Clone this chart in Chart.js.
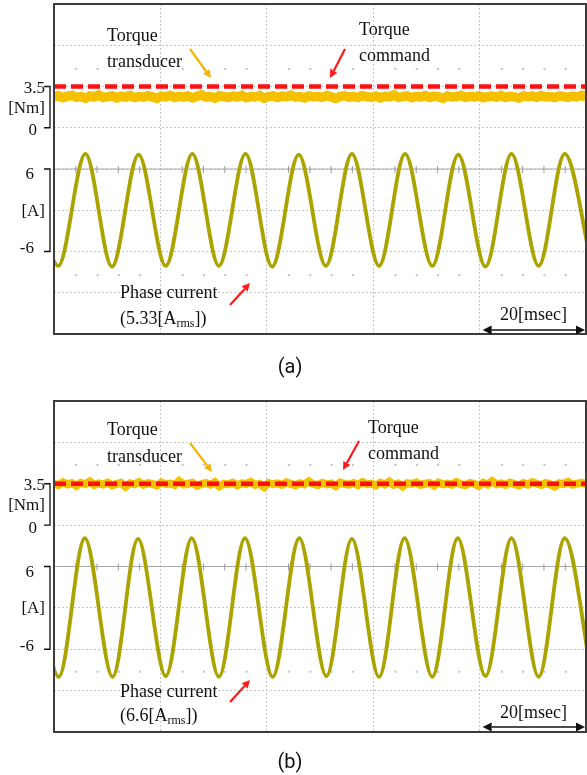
<!DOCTYPE html>
<html><head><meta charset="utf-8">
<script src="https://cdn.jsdelivr.net/npm/chart.js@4.4.0/dist/chart.umd.min.js"></script>
<style>
html,body{margin:0;padding:0;background:#fff;width:587px;height:775px;overflow:hidden}
canvas{position:absolute;left:0}
#ca{top:0}
#cb{top:390px}
</style></head><body>
<canvas id="ca" width="587" height="390"></canvas>
<canvas id="cb" width="587" height="385"></canvas>
<script>
// ---------------- data ----------------
const timeRange = [0, 100];                 // ms (5 div x 20 ms)
const timeTicks = [0, 20, 40, 60, 80, 100];
const torqueTicks = [0, 3.5, 7, 10.5];      // Nm
const currentTicks = [-18, -12, -6, 0, 6, 12]; // A
const commandTime = [0, 100];
const commandTorque = [3.5, 3.5];
const torqueAxisLabels = [['3.5', 3.5], ['[Nm]', 1.75], ['0', 0]];
const currentAxisLabels = [['6', 6], ['[A]', 0], ['-6', -6]];

// phase current extremes (ms, A)
const currentTimeA = [-4.2, 0.8, 5.9, 10.9, 15.9, 21.0, 26.0, 31.0, 36.0, 41.0, 46.0, 51.1, 56.0, 61.1, 66.0, 71.1, 76.0, 81.1, 86.0, 91.1, 96.0, 101.1];
const currentA     = [8.2, -8.1, 8.2, -8.2, 8.1, -8.1, 8.2, -8.1, 8.2, -8.2, 8.1, -8.1, 8.2, -8.1, 8.2, -8.1, 8.1, -8.2, 8.2, -8.1, 8.2, -8.1];
const currentTimeB = [-4.2, 0.9, 5.8, 11.0, 15.8, 21.0, 25.9, 31.0, 35.9, 41.1, 46.1, 51.2, 56.0, 61.1, 65.9, 71.1, 75.9, 81.1, 86.0, 91.1, 96.0, 101.1];
const currentB     = [10.1, -10.0, 10.1, -10.0, 10.0, -9.9, 10.1, -10.0, 10.1, -10.0, 10.1, -9.9, 10.0, -10.0, 10.1, -10.0, 10.1, -9.9, 10.1, -10.0, 10.1, -10.0];

// torque transducer samples (Nm), evenly spaced across the screen
const torqueA = [
2.62,2.71,2.55,2.68,2.74,2.58,2.66,2.50,2.69,2.61,
2.77,2.57,2.64,2.70,2.53,2.67,2.60,2.73,2.56,2.65,
2.59,2.72,2.63,2.48,2.68,2.62,2.75,2.57,2.66,2.61,
2.70,2.54,2.67,2.79,2.60,2.64,2.52,2.71,2.63,2.58,
2.69,2.61,2.74,2.55,2.66,2.62,2.72,2.51,2.65,2.70,
2.57,2.68,2.63,2.76,2.59,2.64,2.53,2.70,2.61,2.67,
2.58,2.73,2.62,2.49,2.66,2.71,2.60,2.65,2.56,2.74,
2.63,2.59,2.69,2.54,2.67,2.62,2.78,2.58,2.64,2.71,
2.55,2.66,2.61,2.73,2.57,2.68,2.63,2.50,2.70,2.62,
2.65,2.76,2.58,2.67,2.61,2.72,2.55,2.64,2.69,2.60,
2.74,2.57,2.66,2.62,2.52,2.70,2.63,2.68,2.59,2.73,
2.61,2.65,2.56,2.71,2.64,2.58,2.69,2.62,2.75,2.60];
const torqueB = [
3.50,3.38,3.62,3.44,3.55,3.31,3.58,3.47,3.70,3.40,
3.52,3.43,3.60,3.36,3.49,3.57,3.25,3.53,3.45,3.64,
3.41,3.55,3.48,3.35,3.61,3.46,3.52,3.39,3.74,3.44,
3.50,3.58,3.33,3.47,3.56,3.42,3.63,3.28,3.51,3.45,
3.59,3.37,3.54,3.48,3.66,3.40,3.50,3.22,3.57,3.46,
3.53,3.41,3.62,3.49,3.36,3.55,3.44,3.71,3.47,3.39,
3.58,3.45,3.52,3.30,3.60,3.48,3.43,3.56,3.38,3.64,
3.46,3.51,3.35,3.59,3.44,3.68,3.41,3.53,3.27,3.55,
3.48,3.62,3.40,3.50,3.57,3.34,3.61,3.45,3.52,3.42,
3.65,3.47,3.38,3.56,3.49,3.31,3.58,3.44,3.72,3.46,
3.53,3.40,3.60,3.47,3.36,3.55,3.43,3.63,3.50,3.39,
3.57,3.45,3.26,3.54,3.48,3.66,3.42,3.51,3.59,3.46];

// ---------------- styling / drawing ----------------
const SERIF = '"Liberation Serif", "Times New Roman", serif';
const GRID = '#c6c6c6';

function arrow(ctx, x1, y1, x2, y2, color, w, head) {
  const ang = Math.atan2(y2 - y1, x2 - x1);
  const bx = x2 - head * Math.cos(ang), by = y2 - head * Math.sin(ang);
  ctx.strokeStyle = color; ctx.fillStyle = color; ctx.lineWidth = w;
  ctx.beginPath(); ctx.moveTo(x1, y1); ctx.lineTo(bx, by); ctx.stroke();
  const px = -Math.sin(ang) * head * 0.5, py = Math.cos(ang) * head * 0.5;
  ctx.beginPath(); ctx.moveTo(x2, y2); ctx.lineTo(bx + px, by + py); ctx.lineTo(bx - px, by - py); ctx.closePath(); ctx.fill();
}

const deco = {
  id: 'deco',
  beforeDatasetsDraw(chart, args, o) {
    const {ctx, chartArea: a, scales} = chart;
    const x = scales.x, yc = scales.yc;
    ctx.save();
    const cy = yc.getPixelForValue(currentTicks[4]);
    ctx.strokeStyle = '#a9a9a9'; ctx.lineWidth = 1;
    ctx.beginPath(); ctx.moveTo(a.left, cy); ctx.lineTo(a.right, cy); ctx.stroke();
    const minor = (timeTicks[1] - timeTicks[0]) / 5;
    const div = a.height / 8;
    for (let i = 1; i < 25; i++) {
      const px = x.getPixelForValue(timeRange[0] + i * minor);
      if (i % 5 !== 0) {
        ctx.strokeStyle = '#9a9a9a';
        ctx.beginPath(); ctx.moveTo(px + 0.5, cy - 3); ctx.lineTo(px + 0.5, cy + 4); ctx.stroke();
        ctx.fillStyle = '#c2c2c2';
        for (const r of o.dotRows) ctx.fillRect(px, a.top + r * div, 2, 2);
      }
    }
    ctx.restore();
  },
  afterDatasetsDraw(chart, args, o) {
    const {ctx, chartArea: a, scales} = chart;
    const yt = scales.yt, yc = scales.yc, x = scales.x;
    ctx.save();
    // frame
    ctx.strokeStyle = '#3c3c3c'; ctx.lineWidth = 2;
    ctx.strokeRect(a.left, a.top, a.width, a.height);
    // axis labels
    ctx.fillStyle = '#111'; ctx.font = '17px ' + SERIF; ctx.textAlign = 'right'; ctx.textBaseline = 'middle';
    for (const [t, v] of torqueAxisLabels) ctx.fillText(t, o.labelX[t], yt.getPixelForValue(v) + o.labelDy[t]);
    for (const [t, v] of currentAxisLabels) ctx.fillText(t, o.labelX[t], yc.getPixelForValue(v) + o.labelDy[t]);
    // brackets
    ctx.strokeStyle = '#111'; ctx.lineWidth = 1.3;
    const br = (y1, y2) => {
      ctx.beginPath(); ctx.moveTo(44, y1); ctx.lineTo(50, y1); ctx.lineTo(50, y2); ctx.lineTo(44, y2); ctx.stroke();
    };
    br(yt.getPixelForValue(commandTorque[0]), yt.getPixelForValue(torqueTicks[0]));
    br(yc.getPixelForValue(currentAxisLabels[0][1]), yc.getPixelForValue(currentAxisLabels[2][1]));
    // annotations
    const n = o.notes;
    ctx.textAlign = 'left'; ctx.textBaseline = 'alphabetic'; ctx.font = '18px ' + SERIF; ctx.fillStyle = '#111';
    ctx.fillText('Torque', n.trans[0], n.trans[1]);
    ctx.fillText('transducer', n.trans[0], n.trans[2]);
    ctx.fillText('Torque', n.cmd[0], n.cmd[1]);
    ctx.fillText('command', n.cmd[0], n.cmd[2]);
    ctx.fillText('Phase current', n.phase[0], n.phase[1]);
    let tx = n.phase[0];
    const pre = '(' + n.rms + '[A';
    ctx.fillText(pre, tx, n.phase[2]); tx += ctx.measureText(pre).width;
    ctx.font = '12px ' + SERIF; ctx.fillText('rms', tx, n.phase[2] + 3); tx += ctx.measureText('rms').width;
    ctx.font = '18px ' + SERIF; ctx.fillText('])', tx, n.phase[2]);
    ctx.fillText('20[msec]', n.scale[0], n.scale[1]);
    arrow(ctx, ...n.aTrans, '#f4b400', 2.2, 8);
    arrow(ctx, ...n.aCmd, '#ff1a1a', 2.2, 8);
    arrow(ctx, ...n.aPhase, '#ff1a1a', 2.2, 8);
    // 20 ms double arrow
    const x1 = x.getPixelForValue(timeTicks[4]) + 3, x2 = x.getPixelForValue(timeTicks[5]) - 1, ay = n.scale[2];
    arrow(ctx, (x1 + x2) / 2, ay, x1, ay, '#111', 1.5, 9);
    arrow(ctx, (x1 + x2) / 2, ay, x2, ay, '#111', 1.5, 9);
    // caption
    ctx.font = '20px Roboto, "Noto Sans", sans-serif'; ctx.textAlign = 'center';
    ctx.fillText(n.caption, n.cap[0], n.cap[1]);
    ctx.restore();
  }
};

const labelX = {'3.5': 45, '[Nm]': 45, '0': 37, '6': 34, '[A]': 45, '-6': 34};
const labelDy = {'3.5': 2, '[Nm]': 1, '0': 3, '6': 6, '[A]': 1, '-6': -3};

function gridScale(extra) {
  return Object.assign({
    ticks: {display: false},
    grid: {color: GRID, lineWidth: 1, drawTicks: false},
    border: {display: false, dash: [2, 2]}
  }, extra);
}

function build(id, torque, torqueWidth, curT, cur, pad, notes, dotRows) {
  return new Chart(document.getElementById(id), {
    type: 'line',
    data: {
      datasets: [
        {data: commandTime.map((t, i) => ({x: t, y: commandTorque[i]})), xAxisID: 'x', yAxisID: 'yt',
         borderColor: '#ff1010', borderWidth: 4.5, borderDash: [12, 5], pointRadius: 0, order: 0, clip: 0},
        {data: torque, xAxisID: 'xn', yAxisID: 'yt', borderColor: '#f5c000', borderWidth: torqueWidth,
         borderJoinStyle: 'miter', pointRadius: 0, tension: 0, order: 1, clip: 0},
        {data: curT.map((t, i) => ({x: t, y: cur[i]})), xAxisID: 'x', yAxisID: 'yc', borderColor: '#aaa300',
         borderWidth: 3.8, pointRadius: 0, tension: 0.33, order: 2, clip: 0}
      ]
    },
    options: {
      responsive: false, animation: false,
      layout: {padding: pad},
      plugins: {legend: {display: false}, tooltip: {enabled: false},
        deco: {notes, dotRows, labelX, labelDy}},
      scales: {
        x: gridScale({type: 'linear', min: timeRange[0], max: timeRange[1],
          afterBuildTicks: s => { s.ticks = timeTicks.map(v => ({value: v})); },
          afterFit: s => { s.height = 0; }}),
        xn: {type: 'category', labels: torque.map((_, i) => i), display: false},
        yc: gridScale({type: 'linear', position: 'left', stack: 's', stackWeight: 5,
          min: currentTicks[0], max: currentTicks[currentTicks.length - 1],
          afterBuildTicks: s => { s.ticks = currentTicks.map(v => ({value: v})); },
          afterFit: s => { s.width = 54; }}),
        yt: gridScale({type: 'linear', position: 'left', stack: 's', stackWeight: 3,
          min: torqueTicks[0], max: torqueTicks[torqueTicks.length - 1],
          afterBuildTicks: s => { s.ticks = torqueTicks.map(v => ({value: v})); },
          afterFit: s => { s.width = 54; }})
      }
    },
    plugins: [deco]
  });
}

build('ca', torqueA, 9.5, currentTimeA, currentA, {top: 4, right: 1, bottom: 56, left: 0}, {
  trans: [107, 41, 67], cmd: [359, 35, 61], phase: [120, 298, 324], rms: '5.33',
  scale: [500, 320, 330], aTrans: [190, 49, 211, 78], aCmd: [345, 49, 330, 78], aPhase: [230, 305, 250, 283],
  caption: '(a)', cap: [290, 373]
}, [1.55, 6.55]);

build('cb', torqueB, 8, currentTimeB, currentB, {top: 11, right: 1, bottom: 43, left: 0}, {
  trans: [107, 45, 72], cmd: [368, 43, 69], phase: [120, 307, 331], rms: '6.6',
  scale: [500, 328, 337], aTrans: [190, 53, 212, 82], aCmd: [359, 51, 343, 80], aPhase: [230, 312, 250, 290],
  caption: '(b)', cap: [290, 378]
}, [1.52, 6.52]);
</script>
</body></html>
